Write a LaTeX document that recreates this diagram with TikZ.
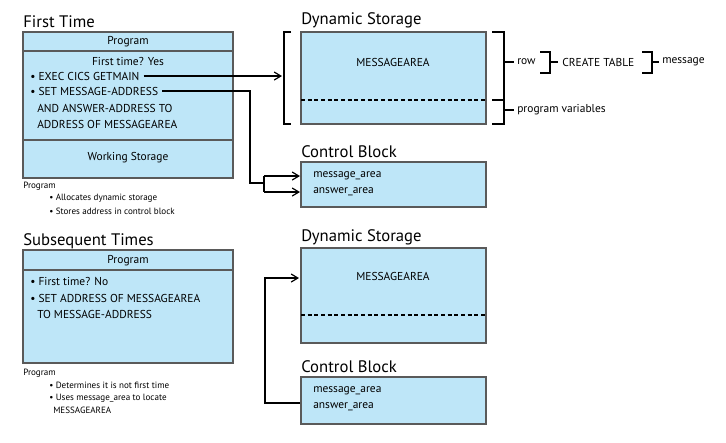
\documentclass[tikz,border=0pt]{standalone}
\usepackage{fontspec}
\setmainfont{PT Sans}
\usetikzlibrary{arrows.meta}
\definecolor{bx}{HTML}{BEE6F8}
\definecolor{bd}{HTML}{5A5A5A}
\begin{document}
\begin{tikzpicture}[x=0.75pt,y=-0.75pt,
 box/.style={draw=bd,line width=1pt,fill=bx},
 ttl/.style={anchor=west,font=\fontsize{12.5}{14}\selectfont,inner sep=0},
 txt/.style={anchor=west,font=\fontsize{8.6}{9}\selectfont,inner sep=0},
 sm/.style={anchor=west,font=\fontsize{6.8}{8}\selectfont,inner sep=0},
 brk/.style={line width=0.9pt},
 arr/.style={line width=0.9pt,-{Straight Barb[length=5pt,width=6pt]}},
 con/.style={line width=0.9pt}]
\useasboundingbox (0,0) rectangle (726,443);
% ---------- First time ----------
\node[ttl] (t1) at (23,22) {First Time};
\draw[box] (23,32) rectangle (233,178);
\draw[bd,line width=1pt] (23,51) -- (233,51) (23,140) -- (233,140);
\node[txt,anchor=center] (p1) at (128,42) {Program};
\node[txt,anchor=center] (ft1) at (128,61) {First time? Yes};
\node[txt] (exec) at (30,76) {• EXEC CICS GETMAIN};
\node[txt] (set) at (30,91) {• SET MESSAGE-ADDRESS};
\node[txt] (and) at (37,108) {AND ANSWER-ADDRESS TO};
\node[txt] (addr) at (37,124) {ADDRESS OF MESSAGEAREA};
\node[txt,anchor=center] (ws) at (128,158) {Working Storage};
\node[sm] (cap1) at (23,186) {Program};
\node[sm] (b11) at (49,198) {• Allocates dynamic storage};
\node[sm] (b12) at (49,211) {• Stores address in control block};
% dynamic storage 1
\node[ttl] (ds1t) at (301,20) {Dynamic Storage};
\draw[box] (301,32) rectangle (486,124);
\draw[dashed,line width=1pt,dash pattern=on 3pt off 2pt] (301,100) -- (486,100);
\node[txt,anchor=center] (ma1) at (393,62) {MESSAGEAREA};
\draw[brk] (291,32) -- (284,32) -- (284,124) -- (291,124);
\draw[brk] (492,32) -- (504,32) -- (504,124) -- (492,124);
\draw[brk] (492,100) -- (504,100);
\draw[brk] (504,62) -- (514,62);
\node[txt] (row) at (517,62) {row};
\draw[brk] (540,52) -- (550,52) -- (550,73) -- (540,73) (550,62) -- (558,62);
\node[txt] (ct) at (562,62) {CREATE TABLE};
\draw[brk] (642,52) -- (652,52) -- (652,73) -- (642,73) (652,62) -- (659,62);
\node[txt] (msg) at (662,62) {message};
\draw[brk] (504,110) -- (514,110);
\node[txt] (pv) at (517,110) {program variables};
% control block 1
\node[ttl] (cb1t) at (301,152) {Control Block};
\draw[box] (301,162) rectangle (486,207);
\node[txt] (m1) at (313,176) {message\_area};
\node[txt] (a1) at (313,192) {answer\_area};
\draw[arr] (exec.east) ++(4,0) -- (282,76);
\draw[con] (set.east) ++(4,0) -- (250,91) -- (250,183) -- (264,183);
\draw[arr] (264,176) -- (300,176);
\draw[arr] (264,192) -- (300,192);
\draw[con] (264,176) -- (264,192);
% ---------- Subsequent ----------
\node[ttl] (t2) at (23,241) {Subsequent Times};
\draw[box] (23,250) rectangle (233,363);
\draw[bd,line width=1pt] (23,270) -- (233,270);
\node[txt,anchor=center] (p2) at (128,261) {Program};
\node[txt] (ft2) at (30,281) {• First time? No};
\node[txt] (s2) at (30,298) {• SET ADDRESS OF MESSAGEAREA};
\node[txt] (s3) at (37,314) {TO MESSAGE-ADDRESS};
\node[sm] (cap2) at (23,373) {Program};
\node[sm] (b21) at (49,385) {• Determines it is not first time};
\node[sm] (b22) at (49,398) {• Uses message\_area to locate};
\node[sm] (b23) at (53,410) {MESSAGEAREA};
\node[ttl] (ds2t) at (301,237) {Dynamic Storage};
\draw[box] (301,248) rectangle (486,343);
\draw[dashed,line width=1pt,dash pattern=on 3pt off 2pt] (301,315) -- (486,315);
\node[txt,anchor=center] (ma2) at (393,276) {MESSAGEAREA};
\node[ttl] (cb2t) at (301,367) {Control Block};
\draw[box] (301,377) rectangle (486,424);
\node[txt] (m2) at (313,391) {message\_area};
\node[txt] (a2) at (313,407) {answer\_area};
\draw[arr] (300,403) -- (265,403) -- (265,278) -- (299,278);
\end{tikzpicture}
\end{document}
